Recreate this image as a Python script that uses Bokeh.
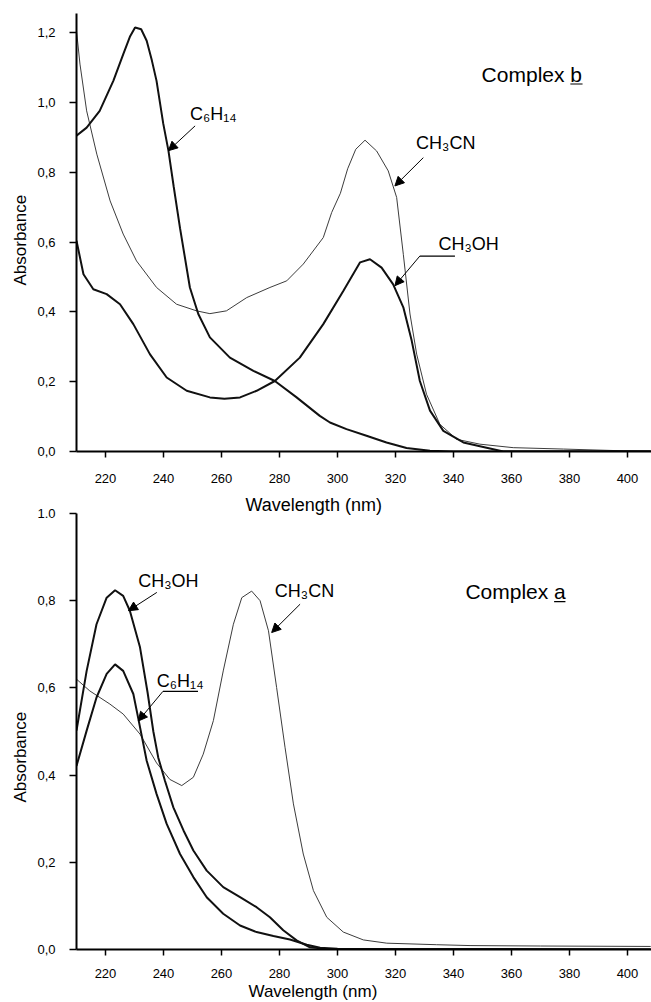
from bokeh.plotting import figure
from bokeh.layouts import column
from bokeh.models import (FixedTicker, CustomJSTickFormatter, Label, Arrow,
                          NormalHead, Title)
from bokeh.embed import file_html
from bokeh.resources import INLINE

# ---------------- data: Complex b (top panel) ----------------
b_hex_x = [210, 213.5, 218, 222.7, 226.1, 228.5, 230.2, 232.3, 234.2, 236, 237.6,
           239.9, 241.7, 243.5, 245.7, 249.1, 252, 256, 262.9, 271, 278.4, 285.9,
           293.9, 297.4, 303.1, 310, 316.9, 323.8, 331.9, 340, 408]
b_hex_y = [0.905, 0.928, 0.976, 1.062, 1.138, 1.19, 1.215, 1.21, 1.177, 1.12, 1.062,
           0.94, 0.862, 0.76, 0.64, 0.47, 0.394, 0.327, 0.269, 0.231, 0.202, 0.155,
           0.102, 0.083, 0.064, 0.045, 0.026, 0.01, 0.002, 0.0, 0.0]

b_meoh_x = [210, 212.4, 215.8, 220.4, 225, 229.6, 235.3, 241.1, 248, 256, 261, 266.4,
            272.1, 278.4, 287, 295.1, 302, 307.8, 311.2, 315.2, 319.2, 322.7, 325.6,
            328.4, 331.9, 336.5, 343.4, 351.4, 357.2, 408]
b_meoh_y = [0.604, 0.508, 0.465, 0.451, 0.422, 0.365, 0.279, 0.212, 0.174, 0.155, 0.151,
            0.155, 0.174, 0.202, 0.269, 0.365, 0.46, 0.542, 0.551, 0.527, 0.479, 0.413,
            0.317, 0.202, 0.117, 0.059, 0.026, 0.011, 0.0, 0.0]

b_mecn_x = [210, 211.2, 213.5, 217, 221.6, 226.1, 230.7, 237.6, 244.5, 251.4, 256,
            261.7, 268.7, 276.7, 282.5, 288.2, 295.1, 298, 301, 303.5, 306.3, 309.5,
            313.5, 317.5, 320.4, 322.7, 325, 327.3, 330.7, 335.3, 341.1, 349.1, 360.6,
            377.9, 398.5, 408]
b_mecn_y = [1.205, 1.11, 0.976, 0.852, 0.718, 0.623, 0.546, 0.47, 0.422, 0.403, 0.395,
            0.403, 0.441, 0.47, 0.489, 0.537, 0.613, 0.685, 0.74, 0.81, 0.866, 0.892,
            0.861, 0.804, 0.728, 0.565, 0.394, 0.279, 0.164, 0.078, 0.035, 0.021, 0.011,
            0.007, 0.002, 0.001]

# ---------------- data: Complex a (bottom panel) ----------------
a_meoh_x = [210, 213.5, 216.9, 220.4, 223.3, 226.1, 228.4, 231.9, 234.5, 236.5, 238.2,
            240.5, 243.4, 246.9, 250.3, 254.9, 260.6, 266.4, 272.1, 276.7, 281.3, 285.9,
            290.5, 295, 300, 408]
a_meoh_y = [0.502, 0.639, 0.746, 0.807, 0.824, 0.811, 0.777, 0.693, 0.59, 0.50, 0.44,
            0.387, 0.326, 0.273, 0.227, 0.181, 0.143, 0.12, 0.097, 0.074, 0.044, 0.021,
            0.005, 0.002, 0.0, 0.0]

a_hex_x = [210, 213.5, 216.9, 220.4, 223.3, 226.1, 229.6, 231.3, 234.2, 237.6, 241.1,
           245.7, 250.3, 254.9, 260.6, 266.4, 272.1, 277.9, 283.6, 289.4, 294, 300, 408]
a_hex_y = [0.421, 0.502, 0.578, 0.632, 0.654, 0.639, 0.586, 0.53, 0.433, 0.357, 0.288,
           0.219, 0.166, 0.12, 0.082, 0.055, 0.04, 0.031, 0.023, 0.011, 0.004, 0.002, 0.0]

a_mecn_x = [210, 214.6, 221.5, 226.1, 231.9, 237.6, 242.2, 246.3, 250.3, 253.7, 257.2,
            260.6, 264.1, 267, 270.4, 273.3, 276.2, 279, 281.9, 284.8, 288.2, 291.7,
            296.3, 302, 308.9, 317, 334.2, 345.7, 370, 408]
a_mecn_y = [0.62, 0.593, 0.563, 0.54, 0.494, 0.428, 0.39, 0.376, 0.395, 0.448, 0.525,
            0.639, 0.746, 0.807, 0.822, 0.80, 0.731, 0.601, 0.464, 0.334, 0.219, 0.135,
            0.074, 0.04, 0.022, 0.0145, 0.011, 0.009, 0.008, 0.007]

# ---------------- ticks ----------------
x_ticks = [220, 240, 260, 280, 300, 320, 340, 360, 380, 400]
top_y_ticks = [0.0, 0.2, 0.4, 0.6, 0.8, 1.0, 1.2]
top_y_labels = ["0,0", "0,2", "0,4", "0,6", "0,8", "1,0", "1,2"]
bot_y_ticks = [0.0, 0.2, 0.4, 0.6, 0.8, 1.0]
bot_y_labels = ["0,0", "0,2", "0,4", "0,6", "0,8", "1.0"]

x_title = "Wavelength (nm)"
y_title = "Absorbance"

# ---------------- annotations (text, positions) ----------------
top_texts = [("C\u2086H\u2081\u2084", 249.1, 0.947, "18px"),
             ("CH\u2083CN", 327.1, 0.864, "18px"),
             ("CH\u2083OH", 334.8, 0.575, "18px"),
             ("Complex b", 349.7, 1.060, "21px")]
top_arrows = [(250.9, 0.933, 241.7, 0.862),
              (329.6, 0.842, 319.8, 0.761),
              (328.4, 0.560, 319.8, 0.475)]
top_rules = [(328.4, 340.5, 0.560), (380.3, 384.5, 1.053)]

bot_texts = [("CH\u2083OH", 231.3, 0.829, "18px"),
             ("C\u2086H\u2081\u2084", 237.7, 0.600, "18px"),
             ("CH\u2083CN", 278.4, 0.807, "18px"),
             ("Complex a", 344.1, 0.805, "21px")]
bot_arrows = [(237.7, 0.819, 227.9, 0.777),
              (239.8, 0.592, 231.3, 0.524),
              (287.1, 0.792, 277.3, 0.727)]
bot_rules = [(239.8, 251.9, 0.592), (374.7, 378.6, 0.798)]

FONT = "Liberation Sans"
THICK = "#111111"
THIN = "#3c3c3c"
XR = (210, 408.28)


def make_fig(height, y_end, border_top, border_bottom, yticks, ylabels):
    p = figure(width=651, height=height, x_range=XR, y_range=(0, y_end),
               min_border_left=76, min_border_right=0, min_border_top=border_top,
               min_border_bottom=border_bottom, output_backend="svg",
               toolbar_location=None)
    p.xgrid.visible = False
    p.ygrid.visible = False
    p.outline_line_color = None
    p.background_fill_color = "white"
    p.border_fill_color = "white"
    p.xaxis.ticker = FixedTicker(ticks=x_ticks)
    p.yaxis.ticker = FixedTicker(ticks=yticks)
    p.yaxis.formatter = CustomJSTickFormatter(
        args=dict(vals=yticks, labs=ylabels),
        code="const i = vals.findIndex(v => Math.abs(v - tick) < 1e-6); return i >= 0 ? labs[i] : '';")
    for ax in (p.xaxis, p.yaxis):
        ax.axis_line_width = 2
        ax.axis_line_color = "black"
        ax.major_tick_line_width = 1.5
        ax.major_tick_in = 0
        ax.minor_tick_in = 0
        ax.minor_tick_out = 0
        ax.major_label_text_font = FONT
        ax.major_label_text_font_size = "13px"
        ax.major_label_text_color = "black"
    p.xaxis.major_tick_out = 6
    p.yaxis.major_tick_out = 7
    p.yaxis.major_label_standoff = 14
    return p


top = make_fig(491, 1.255, 13, 40, top_y_ticks, top_y_labels)
top.xaxis.major_label_standoff = 16
bot = make_fig(511, 1.0, 22, 53, bot_y_ticks, bot_y_labels)
bot.xaxis.major_label_standoff = 13

top.line(b_mecn_x, b_mecn_y, line_width=1, line_color=THIN)
top.line(b_hex_x, b_hex_y, line_width=2, line_color=THICK)
top.line(b_meoh_x, b_meoh_y, line_width=2, line_color=THICK)

bot.line(a_mecn_x, a_mecn_y, line_width=1, line_color=THIN)
bot.line(a_hex_x, a_hex_y, line_width=2, line_color=THICK)
bot.line(a_meoh_x, a_meoh_y, line_width=2, line_color=THICK)


def annotate(p, texts, arrows, rules):
    for t, x, y, fs in texts:
        p.add_layout(Label(x=x, y=y, y_offset=7, text=t, text_font=FONT,
                           text_font_size=fs, text_align="left",
                           text_baseline="alphabetic", text_color="black"))
    for x0, y0, x1, y1 in arrows:
        p.add_layout(Arrow(x_start=x0, y_start=y0, x_end=x1, y_end=y1,
                           line_width=1, line_color="black",
                           end=NormalHead(size=9, fill_color="black",
                                          line_color="black", line_width=1)))
    for x0, x1, y in rules:
        p.segment(x0=[x0], y0=[y], x1=[x1], y1=[y], line_width=1.2,
                  line_color="black")


annotate(top, top_texts, top_arrows, top_rules)
annotate(bot, bot_texts, bot_arrows, bot_rules)


def title(text, offset, standoff, size):
    return Title(text=text, align="left", offset=offset, standoff=standoff,
                 text_font=FONT, text_font_size=size, text_font_style="normal",
                 text_color="black")


# y-axis titles (left side, outside the tick labels); offset measured from frame bottom
top.add_layout(title(y_title, 166, 10, "17px"), "left")
bot.add_layout(title(y_title, 147, 10, "17px"), "left")

# x-axis title of the upper panel sits just above the lower panel's frame
bot.title.text = x_title
bot.title.align = "left"
bot.title.offset = 169
bot.title.standoff = -3
bot.title.text_font = FONT
bot.title.text_font_size = "18px"
bot.title.text_font_style = "normal"
bot.title.text_color = "black"

# x-axis title of the lower panel
bot.add_layout(title(x_title, 172, -2, "17px"), "below")

layout = column(top, bot, spacing=0)
open("out.html", "w").write(file_html(layout, INLINE))
